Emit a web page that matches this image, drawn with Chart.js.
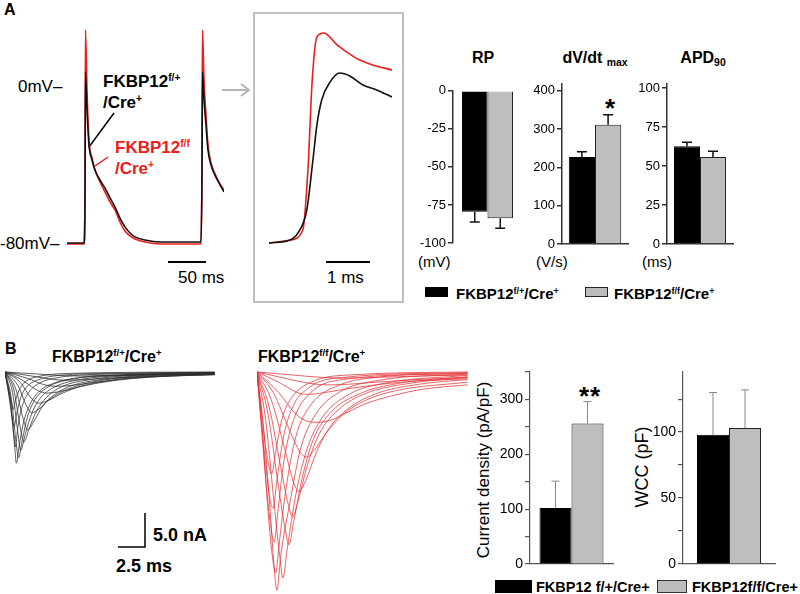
<!DOCTYPE html>
<html>
<head>
<meta charset="utf-8">
<script src="https://cdn.jsdelivr.net/npm/chart.js@4.4.1/dist/chart.umd.min.js"></script>
<style>
body { margin: 0; background: #fff; }
#fig { position: relative; width: 800px; height: 594px; overflow: hidden; font-family: "Liberation Sans", Arial, sans-serif; color: #000; background: #fff; }
#fig canvas { position: absolute; z-index: 2; }
#deco { position: absolute; left: 0; top: 0; }
.t { position: absolute; white-space: nowrap; line-height: 1; transform: translateY(-50%); }
.c { transform: translate(-50%, -50%); }
.r { transform: translate(-50%, -50%) rotate(-90deg); }
.b { font-weight: bold; }
.t sup { font-size: 60%; position: relative; top: -0.6em; vertical-align: baseline; }
.t sub { font-size: 65%; position: relative; top: 0.3em; vertical-align: baseline; }
.box { position: absolute; box-sizing: border-box; }
</style>
</head>
<body>
<div id="fig">
  <svg id="deco" width="800" height="594">
    <rect x="254" y="13" width="149" height="289" fill="none" stroke="#c0c0c0" stroke-width="2"/>
    <line x1="222" y1="90" x2="248" y2="90" stroke="#b4b4b4" stroke-width="2"/>
    <polyline points="241,84 249,90 241,96" fill="none" stroke="#b4b4b4" stroke-width="2"/>
    <line x1="168" y1="262" x2="206" y2="262" stroke="#000" stroke-width="2"/>
    <line x1="326" y1="262" x2="370" y2="262" stroke="#000" stroke-width="2"/>
    <line x1="114" y1="113" x2="89" y2="147" stroke="#000" stroke-width="1.5"/>
    <line x1="108" y1="157" x2="95" y2="166" stroke="#ee1c1c" stroke-width="1.5"/>
    <polyline points="145,513 145,547 118,547" fill="none" stroke="#000" stroke-width="1.5"/>
  </svg>

  <div class="t b" style="left:4px;top:10px;font-size:16px">A</div>
  <div class="t" style="left:18px;top:86px;font-size:17px">0mV–</div>
  <div class="t" style="left:0px;top:243px;font-size:17px">-80mV–</div>
  <div class="t b" style="left:103px;top:81px;font-size:17px">FKBP12<sup>f/+</sup></div>
  <div class="t b" style="left:103px;top:102px;font-size:17px">/Cre<sup>+</sup></div>
  <div class="t b" style="left:115px;top:147px;font-size:17px;color:#ee1c1c">FKBP12<sup>f/f</sup></div>
  <div class="t b" style="left:115px;top:168px;font-size:17px;color:#ee1c1c">/Cre<sup>+</sup></div>
  <div class="t" style="left:178px;top:277px;font-size:17px">50 ms</div>
  <div class="t" style="left:327px;top:277px;font-size:17px">1 ms</div>

  <div class="t b c" style="left:483px;top:58px;font-size:16px">RP</div>
  <div class="t b c" style="left:595px;top:58px;font-size:16px">dV/dt <sub>max</sub></div>
  <div class="t b c" style="left:703px;top:58px;font-size:16px">APD<sub>90</sub></div>
  <div class="t" style="left:418px;top:261px;font-size:15px">(mV)</div>
  <div class="t" style="left:536px;top:261px;font-size:15px">(V/s)</div>
  <div class="t" style="left:642px;top:261px;font-size:15px">(ms)</div>
  <div class="t b c" style="left:610px;top:108px;font-size:26px">*</div>

  <div class="box" style="left:425px;top:287px;width:23px;height:10px;background:#000"></div>
  <div class="t b" style="left:456px;top:293px;font-size:15px">FKBP12<sup>f/+</sup>/Cre<sup>+</sup></div>
  <div class="box" style="left:585px;top:287px;width:23px;height:10px;background:#bcbcbc;border:1px solid #222"></div>
  <div class="t b" style="left:614px;top:293px;font-size:15px">FKBP12<sup>f/f</sup>/Cre<sup>+</sup></div>

  <div class="t b" style="left:5px;top:349px;font-size:16px">B</div>
  <div class="t b" style="left:52px;top:357px;font-size:16px">FKBP12<sup>f/+</sup>/Cre<sup>+</sup></div>
  <div class="t b" style="left:258px;top:357px;font-size:16px">FKBP12<sup>f/f</sup>/Cre<sup>+</sup></div>
  <div class="t b" style="left:153px;top:535px;font-size:18px">5.0 nA</div>
  <div class="t b" style="left:116px;top:566px;font-size:18px">2.5 ms</div>
  <div class="t r" style="left:483px;top:470px;font-size:17px">Current density (pA/pF)</div>
  <div class="t r" style="left:642px;top:467px;font-size:18px">WCC (pF)</div>
  <div class="t b c" style="left:590px;top:396px;font-size:26px;letter-spacing:1px">**</div>

  <div class="box" style="left:495px;top:580px;width:37px;height:13px;background:#000"></div>
  <div class="t b" style="left:536px;top:587px;font-size:14.5px">FKBP12 f/+/Cre+</div>
  <div class="box" style="left:657px;top:580px;width:30px;height:13px;background:#bcbcbc;border:1px solid #333"></div>
  <div class="t b" style="left:692px;top:587px;font-size:14.5px">FKBP12f/f/Cre+</div>
</div>

<script>
// Panel A: action potentials, [time (ms), membrane potential (mV)]
const apCtrl = [[0,-80],[22.4,-80],[23.7,-58],[24.3,7],[26.3,-12],[28.9,-30],[32.9,-37.7],[36.8,-42.8],
  [43.4,-47.9],[50,-52],[56.6,-57],[63.2,-61.7],[69.7,-67.3],[76.3,-71.8],[82.9,-74.9],[89.5,-76.9],
  [102.6,-78.5],[122.4,-79.5],[176.3,-79.5],[177.6,-47.9],[178.3,7],[180.3,-7],[182.9,-20],[185.5,-32.6],
  [189.5,-40.3],[194.7,-45.4],[201.3,-50.4],[206.6,-54]];
const apKO = [[0,-80.5],[22.4,-80.5],[23.7,-50],[24.3,28.5],[26.3,-2],[28.9,-27.5],[32.9,-36.7],[36.8,-42.8],
  [43.4,-48.9],[50,-54],[56.6,-59.1],[63.2,-63.2],[69.7,-69.3],[76.3,-73.9],[82.9,-76.4],[89.5,-78],
  [102.6,-79.5],[122.4,-80.5],[176.3,-80.5],[177.6,-40],[178.3,28.5],[180.3,3],[182.9,-14.8],[185.5,-30],
  [189.5,-39.2],[194.7,-44.8],[201.3,-49.9],[206.6,-53]];

// upstroke, expanded time base
const upCtrl = [[0,-80],[0.48,-78.5],[0.66,-74.9],[0.86,-63.2],[1.0,-37.7],[1.09,-19.9],[1.2,-7.1],
  [1.39,2],[1.61,6.6],[1.84,5.1],[2.14,0.5],[2.45,-2],[2.8,-5.6]];
const upKO = [[0,-80],[0.48,-78.5],[0.77,-73.4],[0.89,-41.3],[0.98,1.5],[1.09,25],[1.25,27],
  [1.55,20.9],[1.77,17.3],[2.07,13.2],[2.36,10.7],[2.8,8.2]];

// bar values: [FKBP12 f/+ /Cre+, FKBP12 f/f /Cre+]
const rpMean = [-79.5, -83.8], rpSem = [6.7, 6.5];
const dvdtMean = [227, 311], dvdtSem = [14, 26];
const apdMean = [62.7, 55.8], apdSem = [2.5, 3.6];

// y-axis ticks (all marks) and the ones that carry a label
const rpTicks = [-100, -75, -50, -25, 0], rpLabels = rpTicks;
const dvdtTicks = [0, 100, 200, 300, 400], dvdtLabels = dvdtTicks;
const apdTicks = [0, 25, 50, 75, 100], apdLabels = apdTicks;
const densTicks = [0, 50, 100, 150, 200, 250, 300, 350], densLabels = [0, 100, 200, 300];
const wccTicks = [0, 25, 50, 75, 100, 125], wccLabels = [0, 50, 100];

// Panel B: Na current families, [time (ms), current (nA)]
const inaCtrl = [
  [[0,0],[0.4,-3],[0.65,-5],[0.75,-5.5],[1,-4],[1.4,-2.4],[2,-1.3],[3,-0.7],[6,-0.2],[19.4,0]],
  [[0,0],[0.45,-4],[0.7,-7],[0.85,-8],[1.1,-6],[1.5,-3.6],[2,-2.2],[3,-1.2],[5,-0.5],[10,-0.2],[19.4,-0.05]],
  [[0,0],[0.5,-5],[0.8,-9],[0.95,-11],[1.2,-8],[1.6,-5],[2.2,-3],[3,-1.8],[5,-0.8],[10,-0.3],[19.4,-0.1]],
  [[0,0],[0.5,-4],[0.9,-11],[1.05,-13.4],[1.3,-11],[1.7,-7.5],[2.3,-4.8],[3.2,-2.8],[4.6,-1.6],[7,-0.8],[11,-0.4],[19.4,-0.1]],
  [[0,0],[0.6,-4],[1.0,-10],[1.25,-12.6],[1.6,-10],[2.1,-6.5],[2.8,-4],[4,-2.2],[6,-1.1],[10,-0.5],[19.4,-0.1]],
  [[0,0],[0.7,-3],[1.2,-9],[1.45,-11.5],[1.9,-9],[2.5,-6],[3.3,-3.8],[4.6,-2.2],[7,-1.1],[11,-0.5],[19.4,-0.15]],
  [[0,0],[0.8,-2.5],[1.4,-8],[1.75,-10.3],[2.2,-8.5],[2.9,-5.8],[3.8,-3.8],[5.2,-2.2],[8,-1.1],[12,-0.5],[19.4,-0.2]],
  [[0,0],[1,-2.5],[1.7,-7],[2.1,-8.5],[2.7,-7.2],[3.5,-5],[4.6,-3.3],[6.2,-2],[9,-1.1],[13,-0.5],[19.4,-0.2]],
  [[0,0],[1.2,-2],[2,-5],[2.5,-6],[3.1,-5.5],[4,-4.2],[5.3,-2.9],[7.2,-1.8],[10,-1],[14,-0.5],[19.4,-0.25]],
  [[0,0],[1.4,-1.5],[2.4,-3.8],[3.1,-4.6],[4,-4.2],[5.2,-3.2],[7,-2.1],[9.5,-1.3],[13,-0.7],[19.4,-0.3]],
  [[0,0],[1.6,-1.2],[3,-2.7],[3.9,-3.1],[5,-2.9],[6.6,-2.3],[8.7,-1.6],[11.5,-1],[15,-0.6],[19.4,-0.35]],
  [[0,0],[2,-0.9],[3.7,-1.9],[4.7,-2.1],[6,-2],[8,-1.6],[10.5,-1.1],[14,-0.7],[19.4,-0.4]],
  [[0,0],[2.5,-0.6],[4.5,-1.1],[5.6,-1.2],[7.5,-1.1],[10,-0.9],[13.5,-0.65],[19.4,-0.4]],
  [[0,0],[3,-0.3],[5.5,-0.55],[7,-0.6],[9,-0.55],[12.5,-0.45],[19.4,-0.35]]
];
const inaKO = [
  [[0,0],[0.35,-5],[0.8,-11],[1.2,-14.5],[1.35,-15],[1.7,-12],[2.3,-7],[3.2,-3.8],[5,-1.5],[9,-0.4],[19.5,0]],
  [[0,0],[0.4,-7],[0.9,-15],[1.3,-19.5],[1.5,-20],[1.8,-16.5],[2.4,-10],[3.2,-5.5],[4.8,-2.3],[8,-0.8],[19.5,-0.1]],
  [[0,0],[0.4,-8],[1,-19],[1.4,-24],[1.6,-25],[1.9,-21],[2.5,-13],[3.4,-7],[5,-3],[8,-1.1],[19.5,-0.2]],
  [[0,0],[0.5,-9],[1.1,-22],[1.5,-28],[1.75,-29.5],[2,-26],[2.7,-17],[3.6,-9.5],[5,-4.8],[7.5,-2],[11,-0.8],[19.5,-0.2]],
  [[0,0],[0.6,-8],[1.2,-20],[1.6,-29],[1.85,-32.1],[2.2,-27],[3.1,-18.8],[4,-11.5],[5.4,-6.3],[7.7,-2.9],[11.4,-1.2],[19.5,-0.3]],
  [[0,0],[0.8,-7],[1.5,-18],[2.1,-27],[2.4,-30.3],[2.8,-26],[3.6,-18],[4.6,-11.5],[6,-6.8],[8.5,-3.3],[12,-1.6],[19.5,-0.5]],
  [[0,0],[1,-6],[2,-17],[2.6,-23],[2.96,-25.4],[3.4,-22],[4.2,-15.5],[5.2,-10],[6.8,-6],[9.5,-3.2],[13,-1.7],[19.5,-0.7]],
  [[0,0],[1.1,-5],[2.2,-14],[2.9,-19.5],[3.3,-21.3],[3.8,-19],[4.7,-13.5],[5.8,-9],[7.5,-5.6],[10,-3.2],[14,-1.7],[19.5,-0.8]],
  [[0,0],[1.3,-4],[2.6,-11.5],[3.4,-16.3],[3.9,-17.6],[4.5,-16],[5.5,-11.8],[6.8,-8],[8.6,-5.2],[11,-3.2],[15,-1.8],[19.5,-1.1]],
  [[0,0],[1.5,-3],[3,-8.5],[4,-11.8],[4.6,-12.5],[5.3,-11.5],[6.4,-9],[8,-6.2],[10,-4.2],[13,-2.7],[19.5,-1.5]],
  [[0,0],[2,-3],[3.6,-6.2],[4.8,-7.3],[5.65,-7.4],[6.8,-7.1],[8.3,-6],[10,-4.7],[12.5,-3.5],[15.5,-2.5],[19.5,-1.9]],
  [[0,0],[2,-1.5],[3.7,-3],[4.5,-3.3],[5.5,-3.2],[7.5,-2.7],[10,-2.1],[14,-1.4],[19.5,-1]],
  [[0,0],[2.5,-0.9],[5,-1.7],[6.5,-1.9],[8.5,-1.8],[11,-1.5],[15,-1.1],[19.5,-0.8]],
  [[0,0],[3,-0.4],[6,-0.8],[8,-0.9],[11,-0.8],[15,-0.6],[19.5,-0.45]]
];

const densMean = [102, 256], densSem = [49, 40];
const wccMean = [98, 103], wccSem = [32, 29];

Chart.defaults.font.family = '"Liberation Sans", Arial, sans-serif';
Chart.defaults.color = '#000';

const fig = document.getElementById('fig');

function mkCanvas(left, top, w, h) {
  const c = document.createElement('canvas');
  c.width = w; c.height = h;
  c.style.left = left + 'px'; c.style.top = top + 'px';
  fig.appendChild(c);
  return c;
}

// traces drawn on hidden linear axes
function traces(b, series) {
  const c = mkCanvas(b.left, b.top, b.w, b.h);
  new Chart(c, {
    type: 'line',
    data: {
      datasets: series.map(s => ({
        data: s.pts.map(p => ({ x: p[0], y: p[1] })),
        borderColor: s.color,
        borderWidth: s.width,
        pointRadius: 0,
        cubicInterpolationMode: 'monotone',
        fill: false
      }))
    },
    options: {
      responsive: false,
      animation: false,
      layout: { padding: 0 },
      scales: {
        x: { type: 'linear', display: false, min: b.xmin, max: b.xmax },
        y: { display: false, min: b.ymin, max: b.ymax }
      },
      plugins: { legend: { display: false }, tooltip: { enabled: false } }
    }
  });
}

// mean +/- SEM whiskers, one-sided
const errPlugin = {
  id: 'errbars',
  afterDatasetsDraw(chart, args, opts) {
    const ctx = chart.ctx, y = chart.scales.y;
    ctx.save();
    ctx.strokeStyle = opts.color;
    ctx.lineWidth = opts.width;
    chart.data.datasets.forEach((ds, i) => {
      const el = chart.getDatasetMeta(i).data[0];
      const v = ds.data[0];
      const y0 = y.getPixelForValue(v);
      const y1 = y.getPixelForValue(v + Math.sign(v) * opts.errs[i]);
      ctx.beginPath();
      ctx.moveTo(el.x, y0); ctx.lineTo(el.x, y1);
      ctx.moveTo(el.x - opts.cap / 2, y1); ctx.lineTo(el.x + opts.cap / 2, y1);
      ctx.stroke();
    });
    ctx.restore();
  }
};

function bars(o) {
  const lw = 44, pt = 9, pb = 12;
  const c = mkCanvas(o.axisX - lw, o.top - pt, lw + (o.right - o.axisX) + 2, o.bottom - o.top + pt + pb);
  new Chart(c, {
    type: 'bar',
    data: {
      labels: [''],
      datasets: [
        { data: [o.mean[0]], backgroundColor: '#000', borderColor: '#000', borderWidth: 1 },
        { data: [o.mean[1]], backgroundColor: '#bebebe', borderColor: '#222', borderWidth: 1 }
      ]
    },
    options: {
      responsive: false,
      animation: false,
      layout: { padding: { top: pt, bottom: pb, left: 0, right: 2 } },
      datasets: { bar: { barPercentage: 1, categoryPercentage: o.cp } },
      scales: {
        x: {
          display: o.base,
          grid: { display: false },
          ticks: { display: false },
          border: { display: true, color: o.axisColor, width: o.axisWidth },
          afterFit: s => { s.height = 0; }
        },
        y: {
          min: o.min, max: o.max,
          afterBuildTicks: s => { s.ticks = o.ticks.map(v => ({ value: v })); },
          ticks: {
            autoSkip: false, padding: 2, color: '#000',
            font: { size: o.font },
            callback: (v, i, ticks) => (o.labels.includes(ticks[i].value) ? String(ticks[i].value) : '')
          },
          grid: { drawOnChartArea: false, tickLength: 5, color: o.axisColor, lineWidth: o.axisWidth },
          border: { color: o.axisColor, width: o.axisWidth },
          afterFit: s => { s.width = lw; }
        }
      },
      plugins: {
        legend: { display: false },
        tooltip: { enabled: false },
        errbars: { errs: o.sem, color: o.errColor, width: o.errWidth, cap: o.cap }
      }
    },
    plugins: [errPlugin]
  });
}

// Panel A traces
traces({ left: 67, top: 23, w: 157, h: 240, xmin: 0, xmax: 206.6, ymin: -90.2, ymax: 32.1 }, [
  { pts: apCtrl, color: '#111', width: 1.6 },
  { pts: apKO, color: '#ee1c1c', width: 1.6 }
]);
traces({ left: 269, top: 23, w: 123, h: 240, xmin: 0, xmax: 2.8, ymin: -90.2, ymax: 32.1 }, [
  { pts: upCtrl, color: '#111', width: 1.6 },
  { pts: upKO, color: '#ee1c1c', width: 1.6 }
]);

const styleA = { font: 13, errColor: '#111', errWidth: 1.5, cap: 10, axisColor: '#333', axisWidth: 1.5 };
bars({ ...styleA, axisX: 453, top: 90, bottom: 243, right: 522, cp: 0.739, min: -100, max: 0,
  ticks: rpTicks, labels: rpLabels, mean: rpMean, sem: rpSem, base: false });
bars({ ...styleA, axisX: 562, top: 83, bottom: 244, right: 628, cp: 0.794, min: 0, max: 418,
  ticks: dvdtTicks, labels: dvdtLabels, mean: dvdtMean, sem: dvdtSem, base: true });
bars({ ...styleA, axisX: 667, top: 83, bottom: 244, right: 733, cp: 0.788, min: 0, max: 102.7,
  ticks: apdTicks, labels: apdLabels, mean: apdMean, sem: apdSem, base: true });

// Panel B traces
traces({ left: 5, top: 366, w: 210, h: 104, xmin: 0, xmax: 19.44, ymin: -14.41, ymax: 0.88 },
  inaCtrl.map(p => ({ pts: p, color: 'rgba(45,45,45,0.85)', width: 0.9 })));
traces({ left: 257, top: 366, w: 211, h: 228, xmin: 0, xmax: 19.54, ymin: -32.65, ymax: 0.88 },
  inaKO.map(p => ({ pts: p, color: 'rgba(228,50,55,0.85)', width: 0.9 })));

const styleB = { font: 14, errColor: '#888', errWidth: 1, cap: 8, axisColor: '#555', axisWidth: 1.2 };
bars({ ...styleB, axisX: 530, top: 370, bottom: 564, right: 613, cp: 0.771, min: 0, max: 351,
  ticks: densTicks, labels: densLabels, mean: densMean, sem: densSem, base: true });
bars({ ...styleB, axisX: 683, top: 370, bottom: 564, right: 775, cp: 0.696, min: 0, max: 146,
  ticks: wccTicks, labels: wccLabels, mean: wccMean, sem: wccSem, base: true });
</script>
</body>
</html>
